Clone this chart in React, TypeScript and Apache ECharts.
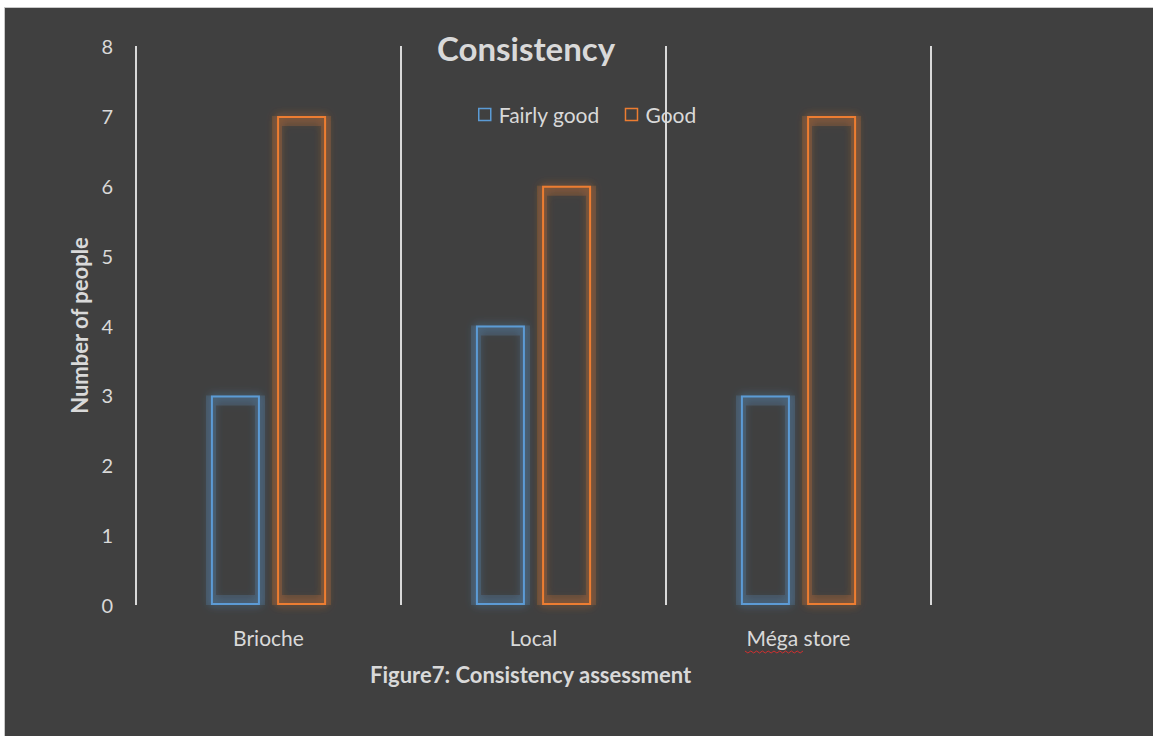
import React, { useEffect, useRef } from "react";
import * as echarts from "echarts";

const categories = ["Brioche", "Local", "Méga store"];
const seriesNames = ["Fairly good", "Good"];
const fairlyGood = [3, 4, 3];
const good = [7, 6, 7];
const yTicks = { min: 0, max: 8, interval: 1 };
const titleText = "Consistency";
const yAxisName = "Number of people";
const captionText = "Figure7: Consistency assessment";

const BLUE = "#5b9bd5";
const ORANGE = "#ed7d31";
const TEXT = "#d9d9d9";
const FONT = "Lato, 'Noto Sans', sans-serif";

export default function App() {
  const ref = useRef<HTMLDivElement>(null);
  useEffect(() => {
    if (!ref.current) return;
    const chart = echarts.init(ref.current, null, { renderer: "svg" });
    const barStyle = (c: string, glow: string) => ({
      color: "rgba(0,0,0,0)",
      borderColor: c,
      borderWidth: 2,
      shadowColor: glow,
      shadowBlur: 8,
    });
    const glowStyle = (c: string) => ({
      color: "rgba(0,0,0,0)",
      borderColor: c,
      borderWidth: 10,
      shadowColor: c,
      shadowBlur: 8,
    });
    // spell-check style wavy underline under "Még"
    const wave: number[][] = [];
    for (let i = 0; i <= 20; i++) wave.push([740 + i * 2.9, 643 + (i % 2 === 0 ? 0 : 2)]);
    chart.setOption({
      animation: false,
      backgroundColor: "#404040",
      textStyle: { fontFamily: FONT },
      title: {
        text: titleText,
        left: 432,
        top: 23,
        padding: 0,
        textStyle: { color: TEXT, fontSize: 33, fontWeight: "bold", fontFamily: FONT },
      },
      legend: {
        left: 473,
        top: 96,
        padding: 0,
        itemWidth: 12,
        itemHeight: 12,
        itemGap: 25,
        icon: "rect",
        textStyle: { color: TEXT, fontSize: 21, fontFamily: FONT, padding: [0, 0, 0, 3] },
        data: [
          { name: seriesNames[0], itemStyle: { color: "rgba(0,0,0,0)", borderColor: BLUE, borderWidth: 1.5 } },
          { name: seriesNames[1], itemStyle: { color: "rgba(0,0,0,0)", borderColor: ORANGE, borderWidth: 1.5 } },
        ],
      },
      grid: { left: 131, right: 222, top: 38, bottom: 131, containLabel: false },
      xAxis: [
        {
          type: "category",
          data: categories,
          boundaryGap: true,
          axisLine: { show: false },
          axisTick: { show: false },
          splitLine: { show: true, lineStyle: { color: TEXT, width: 2 } },
          axisLabel: { color: TEXT, fontSize: 21, margin: 22, fontFamily: FONT },
        },
        {
          type: "category",
          data: categories,
          boundaryGap: true,
          show: false,
          position: "bottom",
        },
      ],
      yAxis: {
        type: "value",
        min: yTicks.min,
        max: yTicks.max,
        interval: yTicks.interval,
        name: yAxisName,
        nameLocation: "middle",
        nameGap: 41,
        nameRotate: 90,
        nameTextStyle: { color: TEXT, fontSize: 22, fontWeight: "bold", fontFamily: FONT },
        axisLine: { show: false },
        axisTick: { show: false },
        splitLine: { show: false },
        axisLabel: { color: TEXT, fontSize: 20, margin: 23, fontFamily: FONT },
      },
      series: [
        {
          name: "glow-fairly",
          type: "bar",
          xAxisIndex: 1,
          data: fairlyGood,
          barWidth: 59,
          barGap: "11.9%",
          silent: true,
          z: 1,
          itemStyle: glowStyle("rgba(91,155,213,0.2)"),
        },
        {
          name: "glow-good",
          type: "bar",
          xAxisIndex: 1,
          data: good,
          barWidth: 59,
          barGap: "11.9%",
          silent: true,
          z: 1,
          itemStyle: glowStyle("rgba(237,125,49,0.2)"),
        },
        {
          name: seriesNames[0],
          type: "bar",
          data: fairlyGood,
          barWidth: 49,
          barGap: "35%",
          z: 3,
          itemStyle: barStyle(BLUE, "rgba(91,155,213,0.8)"),
        },
        {
          name: seriesNames[1],
          type: "bar",
          data: good,
          barWidth: 49,
          barGap: "35%",
          z: 3,
          itemStyle: barStyle(ORANGE, "rgba(237,125,49,0.8)"),
        },
      ],
      graphic: [
        {
          type: "text",
          left: 365,
          top: 655,
          style: {
            text: captionText,
            fill: TEXT,
            font: "bold 22px " + FONT,
          },
        },
        {
          type: "polyline",
          shape: { points: wave },
          style: { stroke: "#d03030", lineWidth: 1, fill: null },
        },
      ],
    });
    return () => chart.dispose();
  }, []);
  return (
    <div style={{ position: "absolute", left: 0, top: 0, width: 1153, height: 736, background: "#fff" }}>
      <div
        style={{
          position: "absolute",
          left: 4,
          top: 7,
          width: 1148,
          height: 728,
          borderLeft: "1px solid #c8c8c8",
          borderTop: "1px solid #c8c8c8",
        }}
      >
        <div ref={ref} style={{ width: 1148, height: 728 }} />
      </div>
    </div>
  );
}
